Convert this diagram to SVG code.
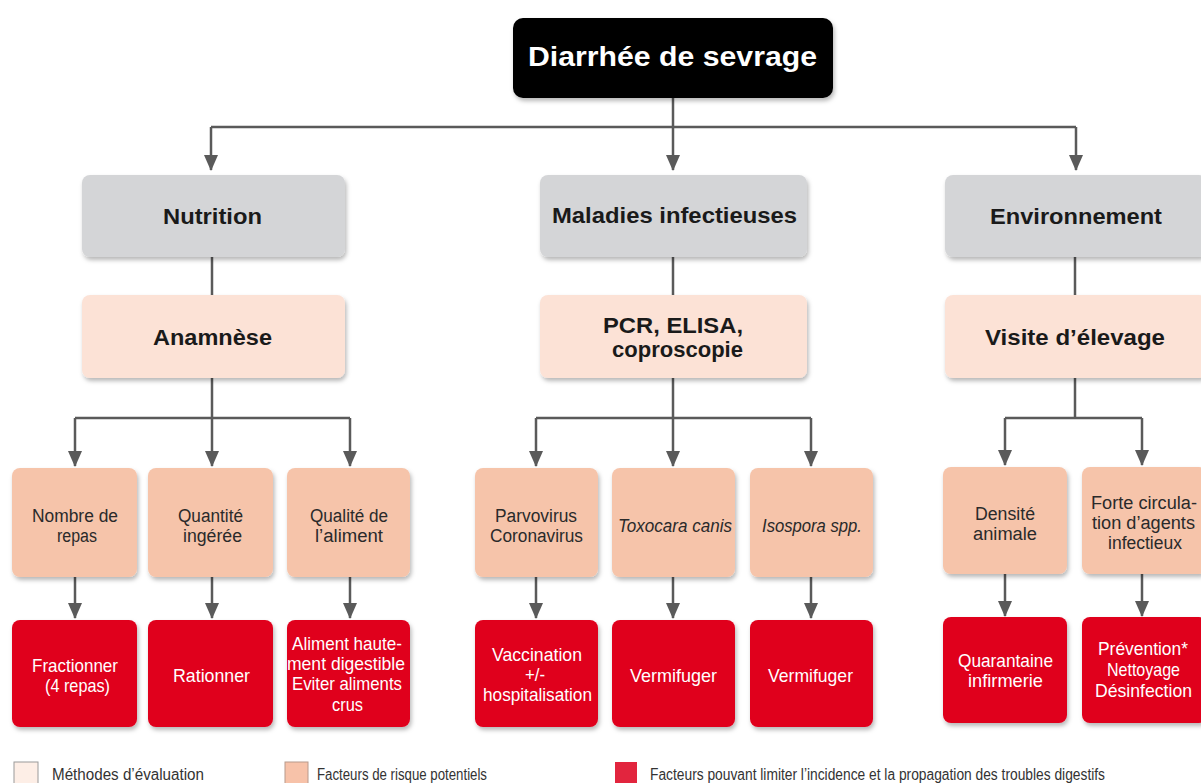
<svg xmlns="http://www.w3.org/2000/svg" width="1201" height="783" viewBox="0 0 1201 783">
<defs>
<filter id="sh" x="-10%" y="-10%" width="125%" height="130%">
<feDropShadow dx="1.5" dy="3" stdDeviation="2" flood-color="#000" flood-opacity="0.28"/>
</filter>
<marker id="arr" markerUnits="userSpaceOnUse" markerWidth="16" markerHeight="14" viewBox="0 0 16 14" refX="15" refY="7" orient="auto">
<path d="M0,0 L16,7 L0,14 Z" fill="#5a5a5a"/>
</marker>
</defs>
<style>
.bg{fill:#ffffff}
.title{fill:#000}
.grey{fill:#d4d5d7}
.pale{fill:#fce2d6}
.peach{fill:#f6c4aa}
.red{fill:#e0061d}
.hb{font-family:"Liberation Sans",Arial,sans-serif;font-weight:bold;font-size:22px;fill:#1a1a1a;text-anchor:middle}
.tt{font-family:"Liberation Sans",Arial,sans-serif;font-weight:bold;font-size:27px;fill:#fff;text-anchor:middle}
.sm{font-family:"Liberation Sans",Arial,sans-serif;font-size:18px;fill:#2a2a2a;text-anchor:middle}
.it{font-style:italic}
.wt{font-family:"Liberation Sans",Arial,sans-serif;font-size:19px;fill:#fff;text-anchor:middle}
.lg{font-family:"Liberation Sans",Arial,sans-serif;font-size:16px;fill:#333}
.con{fill:none;stroke:#5a5a5a;stroke-width:2.5}
</style>
<rect class="bg" x="0" y="0" width="1201" height="783"/>

<g id="connectors">
<path class="con" d="M673,98 V170" marker-end="url(#arr)"/>
<path class="con" d="M211,127 H1076"/>
<path class="con" d="M211,127 V170" marker-end="url(#arr)"/>
<path class="con" d="M1076,127 V170" marker-end="url(#arr)"/>

<path class="con" d="M212,257 V295"/>
<path class="con" d="M673,257 V295"/>
<path class="con" d="M1075,257 V295"/>

<path class="con" d="M212,378 V418"/>
<path class="con" d="M75,418 H350"/>
<path class="con" d="M75,418 V466" marker-end="url(#arr)"/>
<path class="con" d="M212,418 V466" marker-end="url(#arr)"/>
<path class="con" d="M350,418 V466" marker-end="url(#arr)"/>

<path class="con" d="M673,378 V418"/>
<path class="con" d="M536,418 H811"/>
<path class="con" d="M536,418 V466" marker-end="url(#arr)"/>
<path class="con" d="M673,418 V466" marker-end="url(#arr)"/>
<path class="con" d="M811,418 V466" marker-end="url(#arr)"/>

<path class="con" d="M1075,378 V418"/>
<path class="con" d="M1005,418 H1142"/>
<path class="con" d="M1005,418 V465" marker-end="url(#arr)"/>
<path class="con" d="M1142,418 V465" marker-end="url(#arr)"/>

<path class="con" d="M75,577 V618" marker-end="url(#arr)"/>
<path class="con" d="M212,577 V618" marker-end="url(#arr)"/>
<path class="con" d="M350,577 V618" marker-end="url(#arr)"/>
<path class="con" d="M536,577 V618" marker-end="url(#arr)"/>
<path class="con" d="M673,577 V618" marker-end="url(#arr)"/>
<path class="con" d="M811,577 V618" marker-end="url(#arr)"/>
<path class="con" d="M1005,574 V616" marker-end="url(#arr)"/>
<path class="con" d="M1142,574 V616" marker-end="url(#arr)"/>
</g>

<g id="n-title">
<rect class="title" x="513" y="18" width="320" height="80" rx="10" filter="url(#sh)"/>
<text class="tt" x="672.5" y="66" textLength="289" lengthAdjust="spacingAndGlyphs">Diarrhée de sevrage</text>
</g>

<g id="n-nutrition">
<rect class="grey" x="82" y="175" width="263" height="82" rx="8" filter="url(#sh)"/>
<text class="hb" x="212.5" y="224" textLength="99" lengthAdjust="spacingAndGlyphs">Nutrition</text>
</g>
<g id="n-maladies">
<rect class="grey" x="540" y="175" width="267" height="82" rx="8" filter="url(#sh)"/>
<text class="hb" x="674.5" y="223" textLength="245" lengthAdjust="spacingAndGlyphs">Maladies infectieuses</text>
</g>
<g id="n-environnement">
<rect class="grey" x="945" y="175" width="262" height="82" rx="8" filter="url(#sh)"/>
<text class="hb" x="1076" y="224" textLength="172" lengthAdjust="spacingAndGlyphs">Environnement</text>
</g>

<g id="n-anamnese">
<rect class="pale" x="82" y="295" width="263" height="83" rx="8" filter="url(#sh)"/>
<text class="hb" x="212.5" y="345" textLength="119" lengthAdjust="spacingAndGlyphs">Anamnèse</text>
</g>
<g id="n-pcr">
<rect class="pale" x="540" y="295" width="267" height="83" rx="8" filter="url(#sh)"/>
<text class="hb" x="673" y="333" textLength="140" lengthAdjust="spacingAndGlyphs">PCR, ELISA,</text>
<text class="hb" x="677.5" y="357" textLength="131" lengthAdjust="spacingAndGlyphs">coproscopie</text>
</g>
<g id="n-visite">
<rect class="pale" x="945" y="295" width="262" height="83" rx="8" filter="url(#sh)"/>
<text class="hb" x="1075" y="345" textLength="180" lengthAdjust="spacingAndGlyphs">Visite d’élevage</text>
</g>

<g id="n-nombre">
<rect class="peach" x="12" y="468" width="125" height="109" rx="8" filter="url(#sh)"/>
<text class="sm" x="75" y="522" textLength="86" lengthAdjust="spacingAndGlyphs">Nombre de</text>
<text class="sm" x="77" y="542" textLength="40" lengthAdjust="spacingAndGlyphs">repas</text>
</g>
<g id="n-quantite">
<rect class="peach" x="148" y="468" width="125" height="109" rx="8" filter="url(#sh)"/>
<text class="sm" x="210.5" y="522" textLength="65" lengthAdjust="spacingAndGlyphs">Quantité</text>
<text class="sm" x="212.5" y="542" textLength="59" lengthAdjust="spacingAndGlyphs">ingérée</text>
</g>
<g id="n-qualite">
<rect class="peach" x="287" y="468" width="123" height="109" rx="8" filter="url(#sh)"/>
<text class="sm" x="349" y="522" textLength="78" lengthAdjust="spacingAndGlyphs">Qualité de</text>
<text class="sm" x="349" y="542" textLength="68" lengthAdjust="spacingAndGlyphs">l’aliment</text>
</g>
<g id="n-parvo">
<rect class="peach" x="475" y="468" width="123" height="109" rx="8" filter="url(#sh)"/>
<text class="sm" x="536" y="522" textLength="82" lengthAdjust="spacingAndGlyphs">Parvovirus</text>
<text class="sm" x="536.5" y="542" textLength="93" lengthAdjust="spacingAndGlyphs">Coronavirus</text>
</g>
<g id="n-toxocara">
<rect class="peach" x="612" y="468" width="123" height="109" rx="8" filter="url(#sh)"/>
<text class="sm it" x="675" y="532" textLength="114" lengthAdjust="spacingAndGlyphs">Toxocara canis</text>
</g>
<g id="n-isospora">
<rect class="peach" x="750" y="468" width="123" height="109" rx="8" filter="url(#sh)"/>
<text class="sm it" x="812" y="532" textLength="100" lengthAdjust="spacingAndGlyphs">Isospora spp.</text>
</g>
<g id="n-densite">
<rect class="peach" x="943" y="467" width="124" height="107" rx="8" filter="url(#sh)"/>
<text class="sm" x="1005" y="520" textLength="60" lengthAdjust="spacingAndGlyphs">Densité</text>
<text class="sm" x="1005" y="540" textLength="64" lengthAdjust="spacingAndGlyphs">animale</text>
</g>
<g id="n-forte">
<rect class="peach" x="1082" y="467" width="125" height="107" rx="8" filter="url(#sh)"/>
<text class="sm" x="1144" y="509" textLength="106" lengthAdjust="spacingAndGlyphs">Forte circula-</text>
<text class="sm" x="1143.5" y="529" textLength="103" lengthAdjust="spacingAndGlyphs">tion d’agents</text>
<text class="sm" x="1145" y="549" textLength="74" lengthAdjust="spacingAndGlyphs">infectieux</text>
</g>

<g id="n-fractionner">
<rect class="red" x="12" y="620" width="125" height="107" rx="8" filter="url(#sh)"/>
<text class="wt" x="75" y="672" textLength="86" lengthAdjust="spacingAndGlyphs">Fractionner</text>
<text class="wt" x="77.5" y="692" textLength="65" lengthAdjust="spacingAndGlyphs">(4 repas)</text>
</g>
<g id="n-rationner">
<rect class="red" x="148" y="620" width="125" height="107" rx="8" filter="url(#sh)"/>
<text class="wt" x="211.5" y="682" textLength="77" lengthAdjust="spacingAndGlyphs">Rationner</text>
</g>
<g id="n-aliment">
<rect class="red" x="287" y="620" width="123" height="107" rx="8" filter="url(#sh)"/>
<text class="wt" x="347" y="650" textLength="110" lengthAdjust="spacingAndGlyphs">Aliment haute-</text>
<text class="wt" x="346" y="670" textLength="118" lengthAdjust="spacingAndGlyphs">ment digestible</text>
<text class="wt" x="347" y="690" textLength="110" lengthAdjust="spacingAndGlyphs">Eviter aliments</text>
<text class="wt" x="347.5" y="711" textLength="31" lengthAdjust="spacingAndGlyphs">crus</text>
</g>
<g id="n-vaccination">
<rect class="red" x="475" y="620" width="123" height="107" rx="8" filter="url(#sh)"/>
<text class="wt" x="537" y="661" textLength="90" lengthAdjust="spacingAndGlyphs">Vaccination</text>
<text class="wt" x="535" y="681" textLength="20" lengthAdjust="spacingAndGlyphs">+/-</text>
<text class="wt" x="537.5" y="701" textLength="109" lengthAdjust="spacingAndGlyphs">hospitalisation</text>
</g>
<g id="n-vermifuger1">
<rect class="red" x="612" y="620" width="123" height="107" rx="8" filter="url(#sh)"/>
<text class="wt" x="673.5" y="682" textLength="87" lengthAdjust="spacingAndGlyphs">Vermifuger</text>
</g>
<g id="n-vermifuger2">
<rect class="red" x="750" y="620" width="123" height="107" rx="8" filter="url(#sh)"/>
<text class="wt" x="810.5" y="682" textLength="85" lengthAdjust="spacingAndGlyphs">Vermifuger</text>
</g>
<g id="n-quarantaine">
<rect class="red" x="943" y="617" width="124" height="106" rx="8" filter="url(#sh)"/>
<text class="wt" x="1005.5" y="667" textLength="95" lengthAdjust="spacingAndGlyphs">Quarantaine</text>
<text class="wt" x="1005.5" y="687" textLength="75" lengthAdjust="spacingAndGlyphs">infirmerie</text>
</g>
<g id="n-prevention">
<rect class="red" x="1082" y="617" width="125" height="106" rx="8" filter="url(#sh)"/>
<text class="wt" x="1143" y="655" textLength="90" lengthAdjust="spacingAndGlyphs">Prévention*</text>
<text class="wt" x="1143.5" y="676" textLength="73" lengthAdjust="spacingAndGlyphs">Nettoyage</text>
<text class="wt" x="1143.5" y="697" textLength="97" lengthAdjust="spacingAndGlyphs">Désinfection</text>
</g>

<g id="legend">
<rect x="14" y="762" width="24" height="24" fill="#fdeee6" stroke="#9a9a9a" stroke-width="1"/>
<text class="lg" x="52" y="780" textLength="152" lengthAdjust="spacingAndGlyphs">Méthodes d’évaluation</text>
<rect x="285" y="762" width="23" height="24" fill="#f7c2a9" stroke="#b89a8c" stroke-width="1"/>
<text class="lg" x="317" y="780" textLength="170" lengthAdjust="spacingAndGlyphs">Facteurs de risque potentiels</text>
<rect x="615" y="762" width="22" height="24" fill="#e2253e"/>
<text class="lg" x="650" y="780" textLength="455" lengthAdjust="spacingAndGlyphs">Facteurs pouvant limiter l’incidence et la propagation des troubles digestifs</text>
</g>
</svg>
